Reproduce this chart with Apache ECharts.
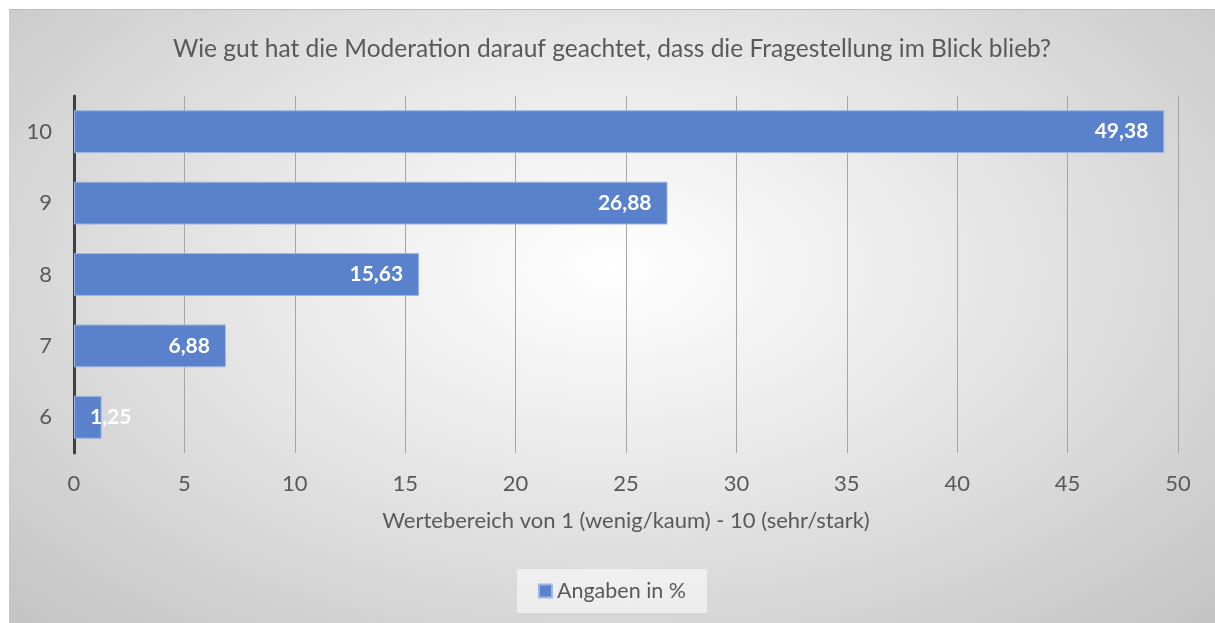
<!DOCTYPE html>
<html>
    <head>
        <meta charset="utf-8">
        <title>Moderation</title>
        <script src="https://cdn.jsdelivr.net/npm/echarts@6/dist/echarts.min.js"></script>
    </head>
    <body>
        <style>
            html, body {
                margin: 0;
                padding: 0;
                width: 100%;
                height: 100%;
                background: #ffffff;
            }
            #main {
                position: absolute;
                left: 9px;
                top: 9px;
                width: 1206px;
                height: 614px;
                border-top: 1px solid #bdbdbd;
                box-sizing: border-box;
                background: radial-gradient(ellipse at 50% 42%, #ffffff 0%, #e6e6e6 45%, #c4c4c4 100%);
            }
        </style>
        <div id="main"></div>
        <script>
            var categories = ['6', '7', '8', '9', '10'];
            var values = [1.25, 6.88, 15.63, 26.88, 49.38];
            var seriesName = 'Angaben in %';
            var titleText = 'Wie gut hat die Moderation darauf geachtet, dass die Fragestellung im Blick blieb?';
            var axisName = 'Wertebereich von 1 (wenig/kaum) - 10 (sehr/stark)';

            var font = 'Lato';
            var textColor = '#595959';

            var chart = echarts.init(document.getElementById('main'));

            var barData = values.map(function (v) {
                var item = { value: v };
                // the smallest bar is too short for an inside label
                if (v < 3) {
                    item.label = { position: 'insideLeft', distance: 16 };
                }
                return item;
            });

            chart.setOption({
                backgroundColor: 'transparent',
                textStyle: { fontFamily: font },
                title: {
                    text: titleText,
                    left: 'center',
                    top: 22,
                    textStyle: {
                        fontFamily: font,
                        fontSize: 24.5,
                        fontWeight: 'normal',
                        color: textColor
                    }
                },
                legend: {
                    bottom: 10,
                    left: 'center',
                    icon: 'rect',
                    itemWidth: 13,
                    itemHeight: 13,
                    itemGap: 4,
                    padding: [11, 21],
                    backgroundColor: 'rgba(255,255,255,0.55)',
                    textStyle: {
                        fontFamily: font,
                        fontSize: 21.5,
                        color: textColor
                    }
                },
                grid: {
                    left: 65,
                    right: 37,
                    top: 86,
                    bottom: 170
                },
                xAxis: {
                    type: 'value',
                    min: 0,
                    max: 50,
                    interval: 5,
                    name: axisName,
                    nameLocation: 'middle',
                    nameGap: 57,
                    nameTextStyle: {
                        fontFamily: font,
                        fontSize: 22,
                        color: textColor
                    },
                    axisLine: { show: false },
                    axisTick: { show: false },
                    axisLabel: {
                        margin: 20,
                        fontSize: 22,
                        color: textColor
                    },
                    splitLine: {
                        lineStyle: { color: '#a6a6a6', width: 1 }
                    }
                },
                yAxis: {
                    type: 'category',
                    data: categories,
                    axisLine: {
                        show: true,
                        lineStyle: { color: '#404040', width: 3 }
                    },
                    axisTick: { show: false },
                    axisLabel: {
                        margin: 22,
                        fontSize: 22,
                        color: textColor
                    }
                },
                series: [{
                    name: seriesName,
                    type: 'bar',
                    data: barData,
                    barCategoryGap: '40%',
                    itemStyle: {
                        color: '#5a81cb',
                        borderColor: '#9fb6e3',
                        borderWidth: 1
                    },
                    label: {
                        show: true,
                        position: 'insideRight',
                        distance: 16,
                        color: '#ffffff',
                        fontWeight: 'bold',
                        fontSize: 21,
                        fontFamily: font,
                        formatter: function (p) {
                            return p.value.toFixed(2).replace('.', ',');
                        }
                    }
                }]
            });

            window.addEventListener('resize', function () {
                chart.resize();
            });
        </script>
    </body>
</html>
